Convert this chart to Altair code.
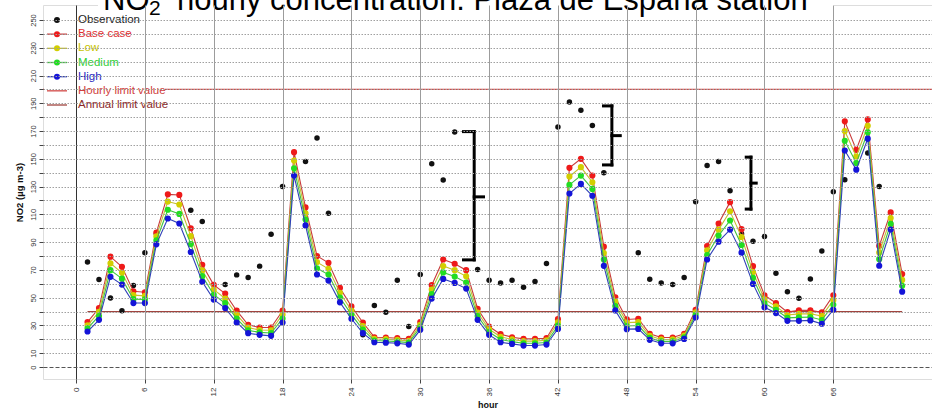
import altair as alt
import pandas as pd

# ---------------- data ----------------
hours = list(range(1, 73))

base_case = [32.4, 42.5, 79.5, 72.2, 54.6, 53.9, 96.9, 124.4, 124.0, 100.0,
             73.7, 59.2, 52.9, 40.6, 30.4, 28.5, 28.5, 40.6, 154.8, 115.0,
             80.0, 75.1, 57.0, 43.7, 32.1, 21.5, 21.3, 20.8, 20.3, 32.4,
             59.0, 77.5, 74.4, 69.8, 42.0, 29.2, 23.7, 21.5, 20.3, 20.3,
             20.8, 34.5, 143.5, 150.0, 138.0, 86.7, 50.3, 34.3, 34.8, 23.9,
             21.3, 21.3, 23.9, 41.3, 87.2, 103.4, 118.8, 99.3, 72.7, 51.7,
             46.1, 39.6, 40.8, 40.8, 39.4, 51.7, 177.0, 156.5, 178.4, 87.2,
             111.4, 67.0]

low = [30.1, 39.7, 74.7, 67.9, 51.8, 51.3, 94.1, 119.2, 117.1, 94.3,
       69.6, 55.7, 49.4, 37.8, 28.4, 26.7, 26.5, 37.8, 148.8, 110.7,
       75.6, 70.8, 53.5, 40.7, 29.5, 20.3, 20.1, 19.6, 18.9, 30.5,
       55.8, 72.8, 69.8, 65.4, 39.3, 27.2, 21.8, 19.9, 18.7, 18.7,
       19.3, 32.2, 137.3, 144.0, 133.1, 82.1, 47.1, 32.0, 32.4, 22.5,
       19.9, 19.9, 22.7, 39.4, 84.0, 99.0, 112.2, 93.7, 68.4, 48.8,
       43.7, 37.5, 38.3, 38.4, 36.7, 48.2, 170.0, 151.7, 173.8, 82.5,
       107.3, 62.8]

medium = [27.9, 36.8, 69.8, 63.7, 48.9, 48.7, 91.2, 113.3, 110.3, 88.6,
          65.5, 52.1, 46.0, 34.9, 26.4, 25.0, 24.5, 34.9, 143.2, 106.3,
          71.1, 66.6, 50.1, 37.8, 27.0, 19.1, 18.8, 18.3, 17.6, 28.7,
          52.5, 68.2, 65.2, 60.9, 36.7, 25.2, 19.8, 18.3, 17.1, 17.1,
          17.7, 29.8, 131.2, 137.9, 128.3, 77.5, 44.0, 29.6, 29.9, 21.0,
          18.5, 18.5, 21.5, 37.6, 80.7, 94.7, 105.6, 88.0, 64.2, 45.9,
          41.3, 35.4, 35.8, 36.0, 33.9, 44.8, 163.0, 147.0, 169.1, 77.7,
          103.2, 58.5]

high = [25.6, 34.0, 65.0, 59.4, 46.1, 46.1, 88.4, 107.0, 103.4, 82.9,
        61.4, 48.6, 42.5, 32.1, 24.4, 23.2, 22.5, 32.1, 137.9, 102.0,
        66.7, 62.3, 46.6, 34.8, 24.4, 17.9, 17.6, 17.1, 16.2, 26.8,
        49.3, 63.5, 60.6, 56.5, 34.0, 23.2, 17.9, 16.7, 15.5, 15.5,
        16.2, 27.5, 125.0, 131.9, 123.4, 72.9, 40.8, 27.3, 27.5, 19.6,
        17.1, 17.1, 20.3, 35.7, 77.5, 90.3, 99.0, 82.4, 59.9, 43.0,
        38.9, 33.3, 33.3, 33.6, 31.2, 41.3, 156.0, 142.2, 164.5, 73.0,
        99.1, 54.3]

observation = [75.6, 63.0, 49.8, 40.6, 58.7, 82.4, 96.0, None, None, 113.0,
               104.8, None, 59.4, 66.4, 64.5, 72.7, 95.7, 130.0, None, 148.0,
               165.0, 110.8, None, None, 23.2, 44.4, 39.4, 62.6, 29.2, 66.7,
               146.4, 134.8, 169.3, None, 70.3, 62.6, 60.6, 62.6, 57.5, 61.6,
               74.6, 173.0, 191.0, 185.0, 174.0, 139.9, None, None, 82.4, 63.3,
               60.6, 59.4, 64.5, 119.0, 145.2, 148.0, 127.0, 96.0, 90.6, 94.0,
               67.6, 54.3, 49.5, 63.4, 83.6, 126.2, 135.0, None, 154.2, 130.1,
               None, None]

hourly_limit = [200]
annual_limit = [40]
annual_hours = [1, 72]

x_ticks = [0, 6, 12, 18, 24, 30, 36, 42, 48, 54, 60, 66]
y_grid = [0, 10, 20, 30, 40, 50, 60, 70, 80, 90, 100, 110, 120, 130, 140,
          150, 160, 170, 180, 190, 200, 210, 220, 230, 240, 250]
y_labels = [0, 10, 30, 50, 70, 90, 110, 130, 150, 170, 190, 210, 230, 250]

legend_labels = ["Observation", "Base case", "Low", "Medium", "High",
                 "Hourly limit value", "Annual limit value"]

# brackets drawn on the chart (hour / concentration units)
bracket_x = [34.7, 46.7, 58.82]
bracket_left = [33.77, 45.97, 58.41]
bracket_right = [35.51, 47.43, 59.28]
bracket_top = [169.6, 188.1, 151.2]
bracket_bottom = [77.2, 145.6, 113.8]
bracket_mid = [122.6, 166.7, 132.5]

title_parts = ["NO", "2", "hourly concentration: Plaza de España station"]

# ---------------- styles ----------------
FONT = "Liberation Sans"
point_colors = {"Base case": "#EE1A1A", "Low": "#D2CE00", "Medium": "#22DD22", "High": "#1414D8"}
line_colors = {"Base case": "#C83A3A", "Low": "#C4C030", "Medium": "#40C440", "High": "#3040B8"}
legend_text_colors = ["#222222", "#E03030", "#C8C400", "#30D030", "#2828C0", "#D04040", "#8B2828"]
legend_point_colors = ["#111111", "#EE1A1A", "#D2CE00", "#22DD22", "#1414D8", None, None]
legend_line_colors = [None, "#C83A3A", "#C4C030", "#40C440", "#3040B8", "#D24A48", "#A0443E"]

xscale = alt.Scale(domain=[-2.88, 74.6], nice=False, zero=False)
yscale = alt.Scale(domain=[-8.6, 260.8], nice=False, zero=False)

label_expr = "indexof(" + str(y_labels) + ", datum.value) >= 0 ? datum.label : ''"

xaxis = alt.Axis(values=x_ticks, title="hour", labelAngle=270, labelAlign="right",
                 labelBaseline="middle", labelFontSize=8, labelColor="#333333",
                 labelFont=FONT, labelPadding=4, labelFlush=False, labelOverlap=False,
                 tickSize=4, tickColor="#444444", domain=False, grid=True,
                 gridColor={"condition": {"test": "datum.value === 0", "value": "#333333"},
                            "value": "#9c9c9c"},
                 gridWidth=1, titleFont=FONT, titleFontSize=9, titleFontWeight="bold",
                 titleColor="#111111", titlePadding=5, zindex=1)

yaxis = alt.Axis(values=y_grid, labelExpr=label_expr, title="NO2 (µg m-3)",
                 labelAngle=270, labelAlign="center", labelBaseline="bottom",
                 labelFontSize=7.5, labelColor="#333333", labelFont=FONT,
                 labelPadding=2, labelFlush=False, labelOverlap=False,
                 tickSize=4, tickColor="#444444", domain=False, grid=True,
                 gridDash={"condition": {"test": "datum.value === 0", "value": [4, 2]},
                           "value": [1.5, 1.5]},
                 gridColor={"condition": {"test": "datum.value === 0", "value": "#555555"},
                            "value": "#a0a0a0"},
                 gridWidth=1, titleFont=FONT, titleFontSize=9.5, titleFontWeight="bold",
                 titleColor="#111111", titlePadding=5, zindex=1)


def X(field):
    return alt.X(field, type="quantitative", scale=xscale, axis=xaxis)


def Y(field):
    return alt.Y(field, type="quantitative", scale=yscale, axis=yaxis)


# ---------------- main layers ----------------
hourly_df = pd.DataFrame({"limit": hourly_limit})
annual_df = pd.DataFrame({"limit": annual_limit, "h1": [annual_hours[0]], "h2": [annual_hours[1]]})

hourly_rule = alt.Chart(hourly_df).mark_rule(color="#D24A48", strokeWidth=1.3).encode(y=Y("limit"))
annual_rule = alt.Chart(annual_df).mark_rule(color="#A0443E", strokeWidth=1.3).encode(
    x=X("h1"), x2="h2", y=Y("limit"))

obs_df = pd.DataFrame({"hour": hours, "value": observation}).dropna()
obs_layer = alt.Chart(obs_df).mark_circle(color="#111111", opacity=1, size=30).encode(
    x=X("hour"), y=Y("value"))

main_layers = [hourly_rule, annual_rule, obs_layer]
for name, vals in [("Base case", base_case), ("Low", low), ("Medium", medium), ("High", high)]:
    d = pd.DataFrame({"hour": hours, "value": vals})
    main_layers.append(alt.Chart(d).mark_line(color=line_colors[name], strokeWidth=1.1).encode(
        x=X("hour"), y=Y("value")))
    main_layers.append(alt.Chart(d).mark_circle(color=point_colors[name], opacity=1, size=38).encode(
        x=X("hour"), y=Y("value")))

seg_rows = []
for i in range(len(bracket_x)):
    seg_rows.append({"x": bracket_x[i], "x2": bracket_x[i], "y": bracket_top[i], "y2": bracket_bottom[i]})
    seg_rows.append({"x": bracket_left[i], "x2": bracket_x[i], "y": bracket_top[i], "y2": bracket_top[i]})
    seg_rows.append({"x": bracket_left[i], "x2": bracket_x[i], "y": bracket_bottom[i], "y2": bracket_bottom[i]})
    seg_rows.append({"x": bracket_x[i], "x2": bracket_right[i], "y": bracket_mid[i], "y2": bracket_mid[i]})
seg_df = pd.DataFrame(seg_rows)
brackets = alt.Chart(seg_df).mark_rule(color="black", strokeWidth=3, strokeCap="square").encode(
    x=X("x"), x2="x2", y=Y("y"), y2="y2")
main_layers.append(brackets)

main = alt.layer(*main_layers)

# ---------------- decorations ----------------
one = alt.Data(values=[{"a": 1}])
legend_bg = alt.Chart(one).mark_rect(color="white").encode(
    x=alt.value(1), x2=alt.value(122), y=alt.value(7), y2=alt.value(107))
title_bg = alt.Chart(one).mark_rect(color="white").encode(
    x=alt.value(55), x2=alt.value(791), y=alt.value(-5), y2=alt.value(7))

t1 = alt.Chart(one).mark_text(text=title_parts[0], font=FONT, fontSize=31, align="left",
                              baseline="alphabetic", color="black").encode(
    x=alt.value(60), y=alt.value(5))
t2 = alt.Chart(one).mark_text(text=title_parts[1], font=FONT, fontSize=21, align="left",
                              baseline="alphabetic", color="black").encode(
    x=alt.value(106), y=alt.value(10))
t3 = alt.Chart(one).mark_text(text=title_parts[2], font=FONT, fontSize=31, align="left",
                              baseline="alphabetic", color="black").encode(
    x=alt.value(134), y=alt.value(5))

# ---------------- legend ----------------
leg_df = pd.DataFrame({"label": legend_labels, "row": list(range(len(legend_labels))),
                       "tcolor": legend_text_colors, "pcolor": legend_point_colors,
                       "lcolor": legend_line_colors})
ly = alt.Y("row:O", scale=alt.Scale(type="point", range=[15, 100], padding=0), axis=None)

leg_lines = alt.Chart(leg_df[leg_df["lcolor"].notna()]).mark_rule(strokeWidth=1.3).encode(
    x=alt.value(4), x2=alt.value(24), y=ly, color=alt.Color("lcolor:N", scale=None))
leg_points = alt.Chart(leg_df[leg_df["pcolor"].notna()]).mark_circle(opacity=1, size=36).encode(
    x=alt.value(14), y=ly, color=alt.Color("pcolor:N", scale=None))
leg_text = alt.Chart(leg_df).mark_text(align="left", baseline="middle", font=FONT, fontSize=11.5).encode(
    x=alt.value(35), y=ly, text="label:N", color=alt.Color("tcolor:N", scale=None))

legend = alt.layer(leg_lines, leg_points, leg_text)

chart = alt.layer(main, legend_bg, title_bg, t1, t2, t3, legend).resolve_scale(
    y="independent"
).properties(
    width=889, height=374,
    autosize=alt.AutoSizeParams(type="none"),
    padding={"left": 43, "top": 5, "right": 0, "bottom": 33},
    background="white",
).configure_view(stroke="#555555", strokeWidth=1).configure(font=FONT)

chart.save("out.html", embed_options={"renderer": "svg", "actions": False})
